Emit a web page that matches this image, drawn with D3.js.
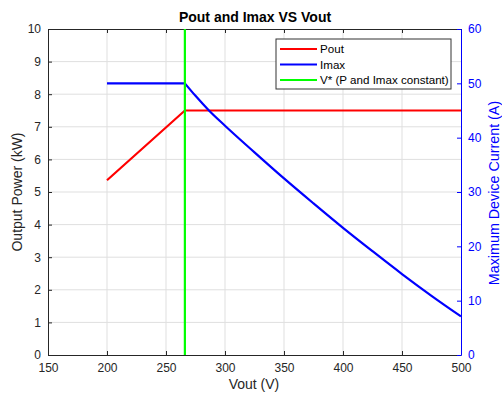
<!DOCTYPE html>
<html>
<head>
<meta charset="utf-8">
<script src="https://cdn.jsdelivr.net/npm/d3@7"></script>
<style>
  body { margin: 0; background: #fff; }
  text { font-family: "Liberation Sans", Arial, sans-serif; }
</style>
</head>
<body>
<svg id="chart" width="502" height="394"></svg>
<script>
// data
const vStar = 266;
const poutV = [200, 266, 500];
const poutKW = [5.36, 7.5, 7.5];
const imaxV = [200, 266, 275, 286, 300, 325, 350, 375, 400, 425, 450, 475, 500];
const imaxA = [50, 50, 47.7, 45.1, 42.2, 37.3, 32.5, 27.9, 23.4, 19.1, 14.9, 10.9, 7.1];
const xTicks = [150, 200, 250, 300, 350, 400, 450, 500];
const leftTicks = [0, 1, 2, 3, 4, 5, 6, 7, 8, 9, 10];
const rightTicks = [0, 10, 20, 30, 40, 50, 60];
const legendItems = [
  { label: "Pout", colour: "#ff0000" },
  { label: "Imax", colour: "#0000ff" },
  { label: "V* (P and Imax constant)", colour: "#00ff00" }
];

const svg = d3.select("#chart");
const plotLeft = 48, plotRight = 461, plotTop = 29, plotBottom = 355;
const axisGrey = "#262626";
const blue = "#0000ff";

const x = d3.scaleLinear().domain([150, 500]).range([plotLeft, plotRight]);
const yL = d3.scaleLinear().domain([0, 10]).range([plotBottom, plotTop]);
const yR = d3.scaleLinear().domain([0, 60]).range([plotBottom, plotTop]);

// grid
svg.append("g").selectAll("line")
  .data(xTicks.slice(1, -1))
  .join("line")
  .attr("x1", d => x(d)).attr("x2", d => x(d))
  .attr("y1", plotTop).attr("y2", plotBottom)
  .attr("stroke", "#dfdfdf").attr("stroke-width", 1);
svg.append("g").selectAll("line")
  .data(leftTicks.slice(1, -1))
  .join("line")
  .attr("x1", plotLeft).attr("x2", plotRight)
  .attr("y1", d => yL(d)).attr("y2", d => yL(d))
  .attr("stroke", "#dfdfdf").attr("stroke-width", 1);

// axes (MATLAB style: ticks point inward)
const xAxis = d3.axisBottom(x).tickValues(xTicks).tickSizeInner(-4).tickSizeOuter(0).tickPadding(8);
const gx = svg.append("g").attr("transform", `translate(0,${plotBottom})`).call(xAxis);
const xTop = d3.axisTop(x).tickValues(xTicks).tickSizeInner(-4).tickSizeOuter(0).tickFormat("");
const gxt = svg.append("g").attr("transform", `translate(0,${plotTop})`).call(xTop);

const yAxisL = d3.axisLeft(yL).tickValues(leftTicks).tickSizeInner(-4).tickSizeOuter(0).tickPadding(7);
const gyl = svg.append("g").attr("transform", `translate(${plotLeft},0)`).call(yAxisL);

const yAxisR = d3.axisRight(yR).tickValues(rightTicks).tickSizeInner(-4).tickSizeOuter(0).tickPadding(7);
const gyr = svg.append("g").attr("transform", `translate(${plotRight},0)`).call(yAxisR);

[gx, gxt, gyl].forEach(g => {
  g.select(".domain").attr("stroke", axisGrey);
  g.selectAll(".tick line").attr("stroke", axisGrey);
  g.selectAll(".tick text").attr("fill", axisGrey)
    .style("font-size", "12px").style("font-family", "'Liberation Sans', Arial, sans-serif");
});
gyr.select(".domain").attr("stroke", blue);
gyr.selectAll(".tick line").attr("stroke", blue);
gyr.selectAll(".tick text").attr("fill", blue)
  .style("font-size", "12px").style("font-family", "'Liberation Sans', Arial, sans-serif");

// lines
const pLine = d3.line().x((d, i) => x(poutV[i])).y(d => yL(d));
svg.append("path").datum(poutKW).attr("d", pLine)
  .attr("fill", "none").attr("stroke", "#ff0000").attr("stroke-width", 2.2);

// Imax: flat part straight, falling part smoothed
const imaxPts = imaxV.map((v, i) => [v, imaxA[i]]);
const flat = imaxPts.filter(p => p[0] <= vStar);
const falling = imaxPts.filter(p => p[0] >= vStar);
svg.append("path").datum(flat)
  .attr("d", d3.line().x(d => x(d[0])).y(d => yR(d[1])))
  .attr("fill", "none").attr("stroke", blue).attr("stroke-width", 2.2);
svg.append("path").datum(falling)
  .attr("d", d3.line().x(d => x(d[0])).y(d => yR(d[1])).curve(d3.curveMonotoneX))
  .attr("fill", "none").attr("stroke", blue).attr("stroke-width", 2.2);

svg.append("line")
  .attr("x1", x(vStar)).attr("x2", x(vStar))
  .attr("y1", yL(10)).attr("y2", yL(0))
  .attr("stroke", "#00ff00").attr("stroke-width", 2.2);

// title + labels
svg.append("text").attr("x", 255).attr("y", 22)
  .attr("text-anchor", "middle").style("font-size", "14px").style("font-weight", "bold")
  .attr("fill", "#000").text("Pout and Imax VS Vout");
svg.append("text").attr("x", 254).attr("y", 389)
  .attr("text-anchor", "middle").style("font-size", "14px")
  .attr("fill", axisGrey).text("Vout (V)");
svg.append("text").attr("transform", "translate(22,192) rotate(-90)")
  .attr("text-anchor", "middle").style("font-size", "14px")
  .attr("fill", axisGrey).text("Output Power (kW)");
svg.append("text").attr("transform", "translate(499,193) rotate(-90)")
  .attr("text-anchor", "middle").style("font-size", "14.3px")
  .attr("fill", blue).text("Maximum Device Current (A)");

// legend
const legend = svg.append("g").attr("transform", "translate(276,39)");
legend.append("rect").attr("width", 175).attr("height", 50)
  .attr("fill", "#fff").attr("stroke", "#333").attr("stroke-width", 1);
legendItems.forEach((item, i) => {
  const ly = 10 + i * 15.5;
  legend.append("line").attr("x1", 4).attr("x2", 41).attr("y1", ly).attr("y2", ly)
    .attr("stroke", item.colour).attr("stroke-width", 2.2);
  legend.append("text").attr("x", 44).attr("y", ly + 4)
    .style("font-size", "11.6px").attr("fill", "#000").text(item.label);
});
</script>
</body>
</html>
